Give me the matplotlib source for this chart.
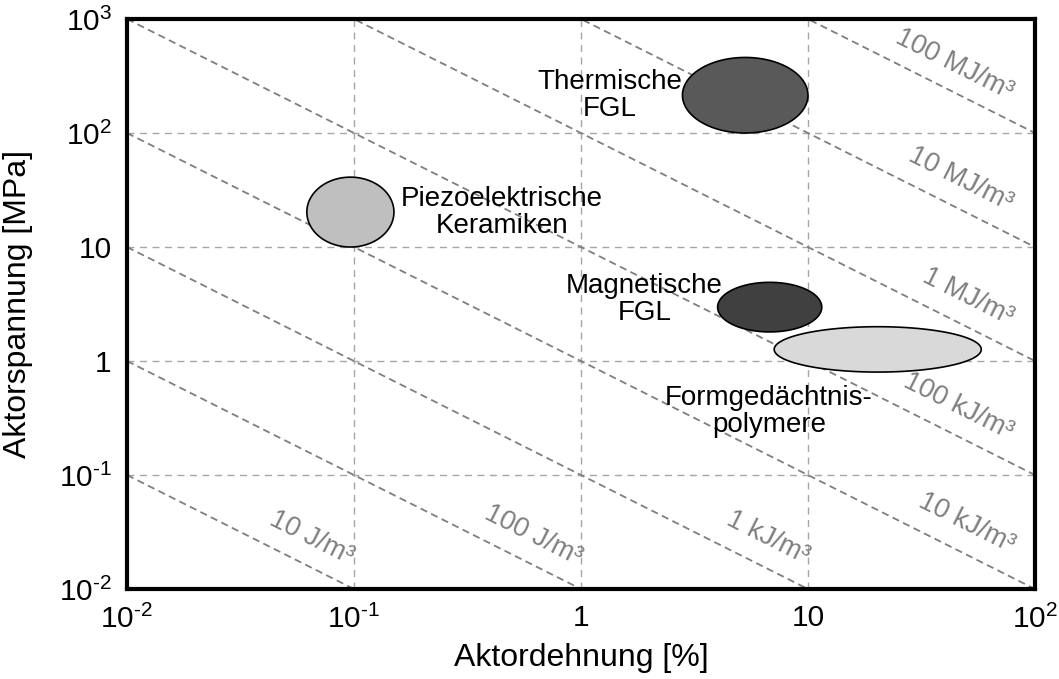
import numpy as np
import matplotlib
matplotlib.use("Agg")
from matplotlib import pyplot as plt

plt.rcParams['font.family'] = ['Liberation Sans', 'DejaVu Sans']
plt.rcParams['mathtext.fontset'] = 'custom'
plt.rcParams['mathtext.rm'] = 'Liberation Sans'
plt.rcParams['mathtext.it'] = 'Liberation Sans:italic'

# actuator classes: strain range [%] and stress range [MPa]
materials = ["Thermische\nFGL", "Piezoelektrische\nKeramiken", "Magnetische\nFGL", "Formgedächtnis-\npolymere"]
strain_lo = [2.8, 0.062, 4.0, 7.1]
strain_hi = [10.0, 0.15, 11.5, 58.0]
stress_lo = [100, 10.0, 1.8, 0.8]
stress_hi = [460, 41.0, 4.9, 2.0]
fill_colors = ["#595959", "#bfbfbf", "#404040", "#d9d9d9"]
# where the material names sit
name_x = [1.34, 0.449, 1.90, 6.73]
name_y = [215, 19.9, 3.43, 0.364]

# energy density lines [J/m^3]
energies = [10, 100, 1e3, 1e4, 1e5, 1e6, 1e7, 1e8]
energy_labels = ["10 J/m³", "100 J/m³", "1 kJ/m³", "10 kJ/m³",
                 "100 kJ/m³", "1 MJ/m³", "10 MJ/m³", "100 MJ/m³"]
elabel_x = [0.0653, 0.615, 6.67, 50.2, 45.8, 50.7, 47.2, 44.0]
elabel_y = [0.028, 0.0298, 0.028, 0.038, 0.403, 3.64, 39.5, 403]

xticks = [1e-2, 1e-1, 1, 10, 100]
xticklabels = [r"$\mathregular{10^{\text{-2}}}$", r"$\mathregular{10^{\text{-1}}}$", "1", "10",
               r"$\mathregular{10^{2}}$"]
yticks = [1e-2, 1e-1, 1, 10, 100, 1000]
yticklabels = [r"$\mathregular{10^{\text{-2}}}$", r"$\mathregular{10^{\text{-1}}}$", "1", "10",
               r"$\mathregular{10^{2}}$", r"$\mathregular{10^{3}}$"]

fig = plt.figure(figsize=(10.59, 6.79), dpi=100)
ax = fig.add_axes([0.1199, 0.1325, 0.8574, 0.8395])
ax.set_xscale("log")
ax.set_yscale("log")
ax.set_xlim(1e-2, 1e2)
ax.set_ylim(1e-2, 1e3)

ax.set_xticks(xticks)
ax.set_xticklabels(xticklabels)
ax.set_yticks(yticks)
ax.set_yticklabels(yticklabels)
ax.minorticks_off()
ax.tick_params(length=0, labelsize=21.5, pad=11)
ax.grid(True, which="major", linestyle=(0, (5, 4)), color="#a6a6a6", linewidth=1)
ax.set_axisbelow(True)
for sp in ax.spines.values():
    sp.set_linewidth(3)
    sp.set_zorder(10)

# strain in % times stress in MPa -> J/m^3 factor 1e4
xs = np.array([1e-2, 1e2])
p1 = ax.transData.transform((1e-2, 1.0))
p2 = ax.transData.transform((1e2, 1e-4))
angle = np.degrees(np.arctan2(p2[1] - p1[1], p2[0] - p1[0]))
for e, lab, lx, ly in zip(energies, energy_labels, elabel_x, elabel_y):
    c = e / 1e4
    ax.plot(xs, c / xs, linestyle=(0, (4, 2.5)), color="#7f7f7f", linewidth=1.3, zorder=2)
    ax.text(lx, ly, lab, rotation=angle, rotation_mode="anchor", ha="center", va="center",
            fontsize=19.5, color="#7f7f7f", zorder=3)

t = np.linspace(0, 2 * np.pi, 300)
for i in range(len(materials)):
    cx = (np.log10(strain_lo[i]) + np.log10(strain_hi[i])) / 2
    rx = (np.log10(strain_hi[i]) - np.log10(strain_lo[i])) / 2
    cy = (np.log10(stress_lo[i]) + np.log10(stress_hi[i])) / 2
    ry = (np.log10(stress_hi[i]) - np.log10(stress_lo[i])) / 2
    ax.fill(10 ** (cx + rx * np.cos(t)), 10 ** (cy + ry * np.sin(t)),
            facecolor=fill_colors[i], edgecolor="black", linewidth=1.2, zorder=5)
    ax.text(name_x[i], name_y[i], materials[i], ha="center", va="center",
            fontsize=20, linespacing=1.05, zorder=6)

ax.set_xlabel("Aktordehnung [%]", fontsize=23)
ax.set_ylabel("Aktorspannung [MPa]", fontsize=23)
ax.xaxis.set_label_coords(0.5, -0.094)
ax.yaxis.set_label_coords(-0.1035, 0.5)

fig.savefig("out.png", dpi=100)
